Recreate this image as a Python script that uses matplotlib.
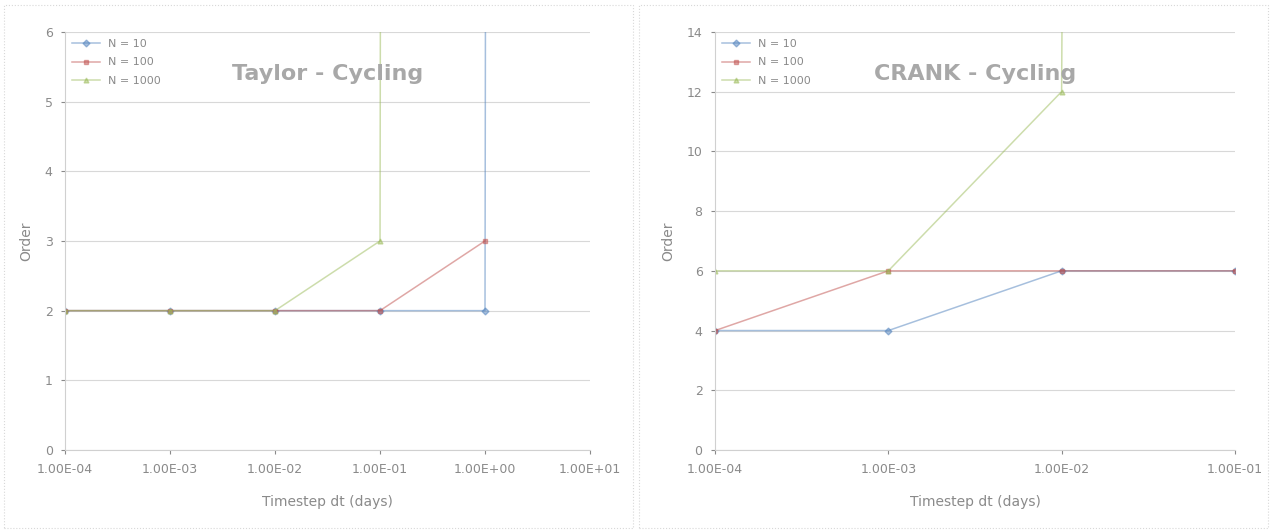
import numpy as np
import matplotlib
matplotlib.use('Agg')
import matplotlib.pyplot as plt
from matplotlib.ticker import FuncFormatter, FixedLocator

# left chart: Taylor
taylor_dt = [1e-4, 1e-3, 1e-2, 1e-1, 1e0, 1e1]
taylor_a = [2, 2, 2, 2, 2, 1000]
taylor_b = [2, 2, 2, 2, 3, np.nan]
taylor_c = [2, 2, 2, 3, 1000, 1000]

# right chart: Crank
crank_dt = [1e-4, 1e-3, 1e-2, 1e-1]
crank_a = [4, 4, 6, 6]
crank_b = [4, 6, 6, 6]
crank_c = [6, 6, 12, 1000]

series_labels = ['N = 10', 'N = 100', 'N = 1000']
colors = ['#4F81BD', '#C0504D', '#9BBB59']
markers = ['D', 's', '^']

text_col = '#8a8a8a'


def sci_fmt(v, pos):
    s = f'{v:.2E}'
    return s


def draw(ax, xs, ys_list, title, ymax, ystep, xticks):
    for ys, lab, c, m in zip(ys_list, series_labels, colors, markers):
        ax.plot(xs, ys, color=c, lw=1.1, marker=m, ms=3.5, alpha=0.5, label=lab)
    ax.set_xscale('log')
    ax.set_xlim(xticks[0], xticks[-1])
    ax.set_ylim(0, ymax)
    ax.xaxis.set_major_locator(FixedLocator(xticks))
    ax.xaxis.set_minor_locator(FixedLocator([]))
    ax.xaxis.set_major_formatter(FuncFormatter(sci_fmt))
    ax.set_yticks(np.arange(0, ymax + 0.1, ystep))
    ax.grid(axis='y', color='#d8d8d8', lw=0.8)
    for sp in ['top', 'right']:
        ax.spines[sp].set_visible(False)
    for sp in ['left', 'bottom']:
        ax.spines[sp].set_color('#d0d0d0')
    ax.tick_params(colors=text_col, labelsize=9, length=3, pad=6)
    ax.set_ylabel('Order', color=text_col, fontsize=10, labelpad=8)
    ax.set_xlabel('Timestep dt (days)', color=text_col, fontsize=10, labelpad=14)
    ax.text(0.5, 0.9, title, transform=ax.transAxes, ha='center', va='center',
            fontsize=16, fontweight='bold', color='#a8a8a8')
    leg = ax.legend(loc='upper left', frameon=False, fontsize=8, handlelength=2.5,
                    borderaxespad=0.2, labelspacing=0.8)
    for t in leg.get_texts():
        t.set_color(text_col)


fig = plt.figure(figsize=(12.77, 5.31), dpi=100)
ax1 = fig.add_axes([0.051, 0.1525, 0.411, 0.7875])
ax2 = fig.add_axes([0.560, 0.1525, 0.407, 0.7875])

draw(ax1, taylor_dt, [taylor_a, taylor_b, taylor_c], 'Taylor - Cycling', 6, 1,
     [1e-4, 1e-3, 1e-2, 1e-1, 1e0, 1e1])
draw(ax2, crank_dt, [crank_a, crank_b, crank_c], 'CRANK - Cycling', 14, 2,
     [1e-4, 1e-3, 1e-2, 1e-1])

# chart area borders
for x0 in [0.003, 0.5]:
    fig.patches.append(plt.Rectangle((x0, 0.005), 0.493, 0.985, transform=fig.transFigure,
                                     fill=False, ec='#d8d8d8', lw=0.8, ls=':'))

fig.savefig('out.png', dpi=100)
